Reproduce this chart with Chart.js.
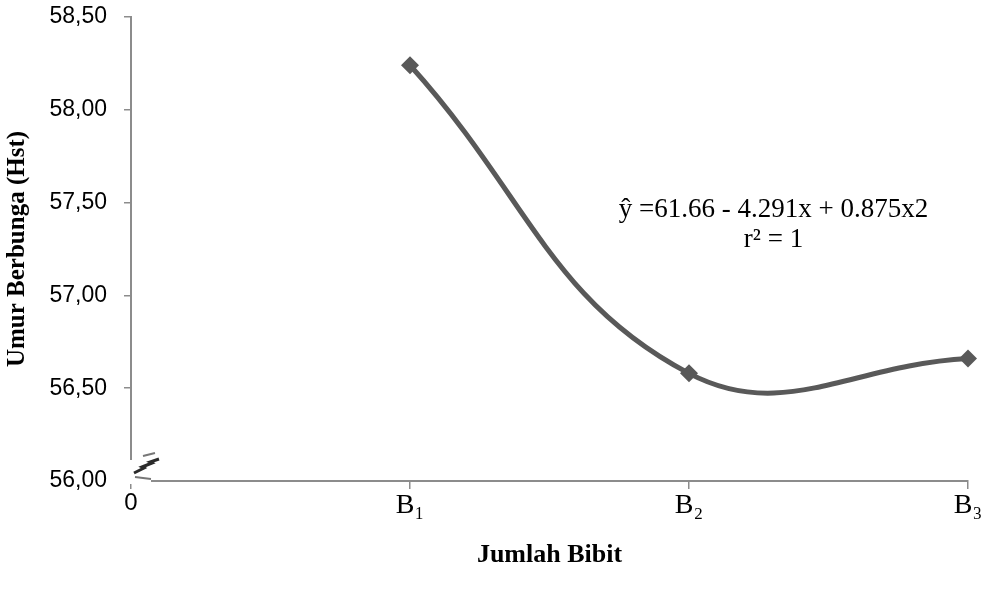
<!DOCTYPE html>
<html>
<head>
<meta charset="utf-8">
<script src="https://cdn.jsdelivr.net/npm/chart.js@4/dist/chart.umd.min.js"></script>
<style>
  html, body { margin: 0; padding: 0; background: #fff; }
  #wrap { width: 993px; height: 595px; }
</style>
</head>
<body>
<div id="wrap"><canvas id="chart" width="993" height="595"></canvas></div>
<script>
const categories = ["0", "B\u2081", "B\u2082", "B\u2083"];
const umurBerbunga = [null, 58.24, 56.58, 56.66];
const yTicks = [56.0, 56.5, 57.0, 57.5, 58.0, 58.5];
const equationLines = ["\u0177 =61.66 - 4.291x + 0.875x2", "r\u00B2 = 1"];

const axisGray = "#8c8c8c";
const lineGray = "#595959";

// axis break mark at the origin + regression text
const extras = {
    id: "extras",
    afterDraw(chart) {
        const ctx = chart.ctx;
        const x = chart.scales.x;
        const y = chart.scales.y;
        const x0 = x.getPixelForValue(0);
        const y0 = y.getPixelForValue(56.0);
        ctx.save();
        ctx.fillStyle = "#fff";
        ctx.fillRect(x0 - 10, y0 - 21, 14, 24);
        ctx.fillRect(x0 - 2, y0 - 3, 22, 6);
        ctx.strokeStyle = "#2a2a2a";
        ctx.lineWidth = 3;
        ctx.beginPath();
        ctx.moveTo(x0 + 3, y0 - 8);
        ctx.lineTo(x0 + 13, y0 - 13);
        ctx.lineTo(x0 + 11, y0 - 14);
        ctx.lineTo(x0 + 21, y0 - 18);
        ctx.lineTo(x0 + 19, y0 - 19);
        ctx.lineTo(x0 + 28, y0 - 22);
        ctx.stroke();
        ctx.strokeStyle = "#777";
        ctx.lineWidth = 2;
        ctx.beginPath();
        ctx.moveTo(x0 + 4, y0 - 4);
        ctx.lineTo(x0 + 20, y0 - 2);
        ctx.moveTo(x0 + 12, y0 - 25);
        ctx.lineTo(x0 + 24, y0 - 28);
        ctx.stroke();

        ctx.fillStyle = "#000";
        ctx.font = "27px 'Liberation Serif', 'Times New Roman', serif";
        ctx.textAlign = "center";
        ctx.textBaseline = "middle";
        const cx = (x.getPixelForValue(2) + x.getPixelForValue(3)) / 2 - 55;
        ctx.fillText(equationLines[0], cx, y.getPixelForValue(57.46));
        ctx.fillText(equationLines[1], cx, y.getPixelForValue(57.30));
        ctx.restore();
    }
};

new Chart(document.getElementById("chart"), {
    type: "line",
    data: {
        labels: categories,
        datasets: [{
            label: "Umur Berbunga",
            data: umurBerbunga,
            borderColor: lineGray,
            backgroundColor: lineGray,
            borderWidth: 5,
            tension: 0.42,
            fill: false,
            pointStyle: "rectRot",
            pointRadius: 9,
            pointBorderWidth: 0,
            pointBackgroundColor: lineGray,
        }],
    },
    options: {
        responsive: false,
        animation: false,
        layout: { padding: { top: 17, right: 25, left: 0, bottom: 0 } },
        plugins: { legend: { display: false }, tooltip: { enabled: false } },
        scales: {
            x: {
                offset: false,
                border: { color: axisGray, width: 2 },
                grid: { drawOnChartArea: false, color: axisGray, lineWidth: 1.5, tickLength: 8 },
                ticks: {
                    color: "#000",
                    padding: 0,
                    maxRotation: 0,
                    font: (c) => ({
                        family: c.index === 0 ? "'Liberation Sans', Arial, sans-serif" : "'Liberation Serif', 'DejaVu Serif', serif",
                        size: c.index === 0 ? 24 : 28,
                    }),
                },
                title: {
                    display: true,
                    text: "Jumlah Bibit",
                    color: "#000",
                    font: { family: "'Liberation Serif', 'Times New Roman', serif", size: 26, weight: "bold" },
                    padding: { top: 0, bottom: 24 },
                },
                afterFit: (scale) => { scale.height = 114; scale.paddingLeft = 0; scale.paddingRight = 0; },
            },
            y: {
                min: 56,
                max: 58.5,
                border: { color: axisGray, width: 2 },
                grid: { drawOnChartArea: false, color: axisGray, lineWidth: 1.5, tickLength: 7 },
                afterBuildTicks: (scale) => { scale.ticks = yTicks.map((v) => ({ value: v })); },
                ticks: {
                    color: "#000",
                    padding: 17,
                    font: { family: "'Liberation Sans', Arial, sans-serif", size: 23 },
                    callback: (v) => Number(v).toFixed(2).replace(".", ","),
                },
                title: {
                    display: true,
                    text: "Umur Berbunga (Hst)",
                    color: "#000",
                    font: { family: "'Liberation Serif', 'Times New Roman', serif", size: 25, weight: "bold" },
                    padding: { top: 3, bottom: 0 },
                },
                afterFit: (scale) => { scale.width = 131; scale.paddingTop = 0; scale.paddingBottom = 0; },
            },
        },
    },
    plugins: [extras],
});
</script>
</body>
</html>
